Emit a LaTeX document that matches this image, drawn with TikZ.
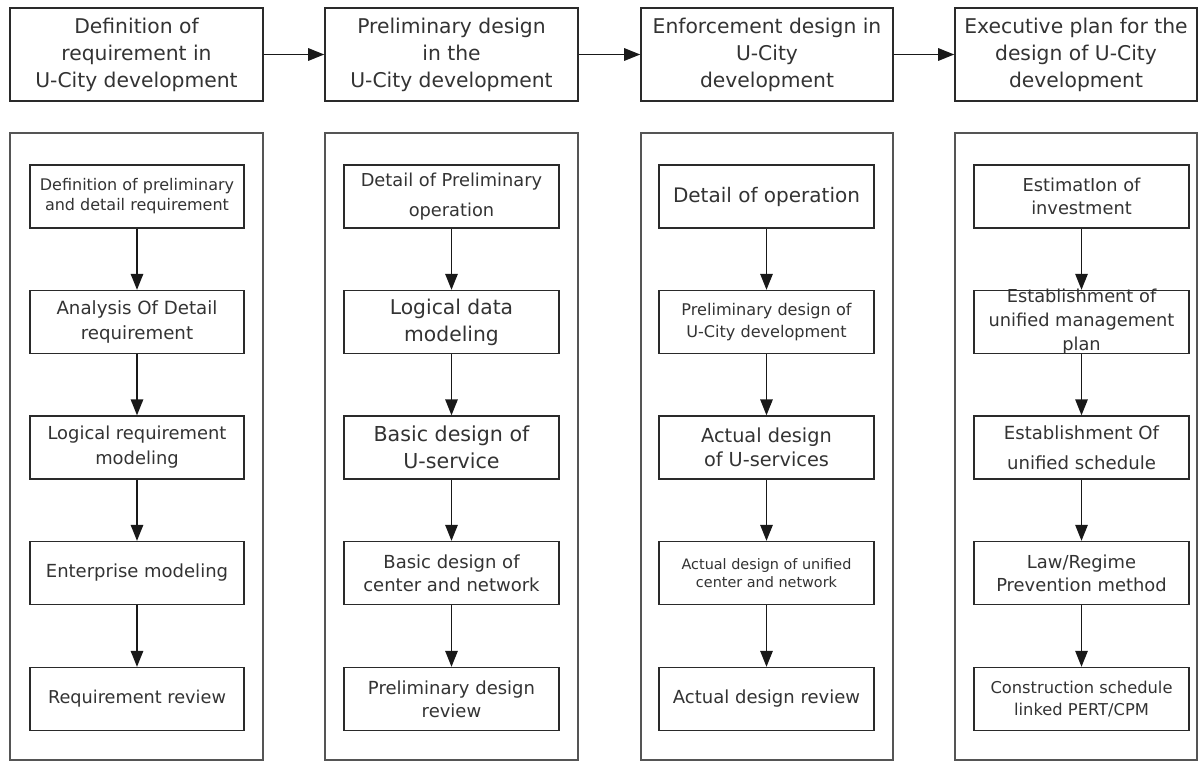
\documentclass[tikz,border=0pt]{standalone}
\usepackage{fontspec}
\setmainfont{DejaVu Sans}
\usetikzlibrary{arrows.meta}
\newcommand\fz[2]{\fontsize{#1pt}{#2pt}\selectfont}
\definecolor{txt}{HTML}{333333}
\definecolor{edge}{HTML}{2A2A2A}
\definecolor{frame}{HTML}{555555}
\begin{document}
\begin{tikzpicture}[x=1pt,y=1pt,
  topbox/.style={draw=edge, line width=1.6pt, text=txt, align=center, inner sep=0pt,
    minimum height=93pt, font=\fz{20.3}{27}},
  bigbox/.style={draw=frame, line width=2pt, inner sep=0pt, minimum height=626.5pt},
  inbox/.style={draw=edge, line width=1.4pt, text=txt, align=center, inner sep=0pt,
    minimum height=63pt, minimum width=215pt},
  arr/.style={-{Triangle[length=16pt,width=12.5pt]}, line width=1.4pt, draw=black!90}]
\useasboundingbox (0,0) rectangle (1199,-761);
\fill[white] (0,0) rectangle (1199,-761);

% top boxes
\node[topbox, minimum width=253pt] (t1) at (136.5,-54.5) {Definition of\\requirement in\\U-City development};
\node[topbox, minimum width=253pt] (t2) at (451.5,-54.5) {Preliminary design\\in the\\U-City development};
\node[topbox, minimum width=252pt] (t3) at (767,-54.5) {Enforcement design in\\U-City\\development};
\node[topbox, minimum width=242pt] (t4) at (1076,-54.5) {Executive plan for the\\design of U-City\\development};
\draw[arr] (t1.east) -- (t2.west);
\draw[arr] (t2.east) -- (t3.west);
\draw[arr] (t3.east) -- (t4.west);

% big frames
\node[bigbox, minimum width=253pt] (f1) at (136.5,-446.25) {};
\node[bigbox, minimum width=253pt] (f2) at (451.5,-446.25) {};
\node[bigbox, minimum width=252pt] (f3) at (767,-446.25) {};
\node[bigbox, minimum width=242pt] (f4) at (1076,-446.25) {};

% column 1
\node[inbox, minimum width=214pt, font=\fz{16}{20}] (a1) at (137,-196.5) {Definition of preliminary\\and detail requirement};
\node[inbox, minimum width=214pt, font=\fz{18.2}{25}] (a2) at (137,-322) {Analysis Of Detail\\requirement};
\node[inbox, minimum width=214pt, font=\fz{17.9}{25}] (a3) at (137,-447.5) {Logical requirement\\modeling};
\node[inbox, minimum width=214pt, font=\fz{18}{25}] (a4) at (137,-573) {Enterprise modeling};
\node[inbox, minimum width=214pt, font=\fz{17.7}{25}] (a5) at (137,-699) {Requirement review};
\draw[arr] (a1.south) -- (a2.north);
\draw[arr] (a2.south) -- (a3.north);
\draw[arr] (a3.south) -- (a4.north);
\draw[arr] (a4.south) -- (a5.north);

% column 2
\node[inbox, font=\fz{17.8}{30}] (b1) at (451.5,-196.5) {Detail of Preliminary\\operation};
\node[inbox, font=\fz{20.3}{27}] (b2) at (451.5,-322) {Logical data\\modeling};
\node[inbox, font=\fz{20.6}{27}] (b3) at (451.5,-447.5) {Basic design of\\U-service};
\node[inbox, font=\fz{18}{23}] (b4) at (451.5,-573) {Basic design of\\center and network};
\node[inbox, font=\fz{18}{23}] (b5) at (451.5,-699) {Preliminary design\\review};
\draw[arr] (b1.south) -- (b2.north);
\draw[arr] (b2.south) -- (b3.north);
\draw[arr] (b3.south) -- (b4.north);
\draw[arr] (b4.south) -- (b5.north);

% column 3
\node[inbox, font=\fz{20}{25}] (c1) at (766.5,-196.5) {Detail of operation};
\node[inbox, font=\fz{16.1}{21.7}] (c2) at (766.5,-322) {Preliminary design of\\U-City development};
\node[inbox, font=\fz{19.3}{23.5}] (c3) at (766.5,-447.5) {Actual design\\of U-services};
\node[inbox, font=\fz{14.4}{18}] (c4) at (766.5,-573) {Actual design of unified\\center and network};
\node[inbox, font=\fz{18}{25}] (c5) at (766.5,-699) {Actual design review};
\draw[arr] (c1.south) -- (c2.north);
\draw[arr] (c2.south) -- (c3.north);
\draw[arr] (c3.south) -- (c4.north);
\draw[arr] (c4.south) -- (c5.north);

% column 4
\node[inbox, font=\fz{17.8}{23}] (d1) at (1081.5,-196.5) {EstimatIon of\\investment};
\node[inbox] (d2) at (1081.5,-322) {};
\node[text=txt, align=center, inner sep=0pt, font=\fz{17.8}{24}] (d2t) at (d2.center) {Establishment of\\unified management\\plan};
\node[inbox, font=\fz{18.1}{30}] (d3) at (1081.5,-447.5) {Establishment Of\\unified schedule};
\node[inbox, font=\fz{17.9}{23}] (d4) at (1081.5,-573) {Law/Regime\\Prevention method};
\node[inbox, font=\fz{16.3}{22}] (d5) at (1081.5,-699) {Construction schedule\\linked PERT/CPM};
\draw[arr] (d1.south) -- (d2.north);
\draw[arr] (d2.south) -- (d3.north);
\draw[arr] (d3.south) -- (d4.north);
\draw[arr] (d4.south) -- (d5.north);
\end{tikzpicture}
\end{document}
